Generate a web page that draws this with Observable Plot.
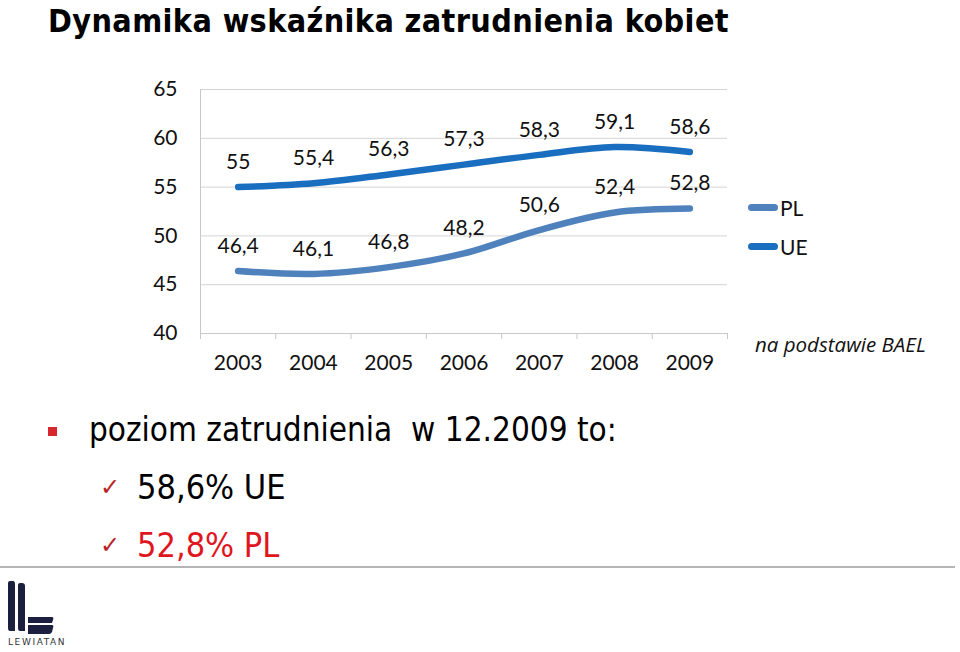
<!DOCTYPE html>
<html>
<head>
<meta charset="utf-8">
<script src="https://cdn.jsdelivr.net/npm/d3@7"></script>
<script src="https://cdn.jsdelivr.net/npm/@observablehq/plot@0.6"></script>
<style>
  html, body { margin: 0; padding: 0; background: #fff; }
  body { width: 960px; height: 652px; position: relative; overflow: hidden; font-family: Lato, "Open Sans", sans-serif; }
  .abs { position: absolute; white-space: nowrap; }
  #title { left: 48px; top: 2px; line-height: 38px; font-family: "DejaVu Sans", sans-serif; font-stretch: condensed; font-weight: bold; font-size: 32px; letter-spacing: 0.4px; color: #000; }
  #chart { left: 0; top: 60px; }
  .leg { font-family: Lato, sans-serif; font-size: 21px; color: #111; display: flex; align-items: center; }
  .leg span.sw { display: inline-block; width: 30px; height: 7px; border-radius: 3.5px; margin-right: 2px; }
  #source { left: 755px; top: 330px; font-family: "Open Sans", sans-serif; font-style: italic; font-size: 20.5px; color: #111; }
  .big { font-family: "DejaVu Sans", sans-serif; font-stretch: condensed; font-size: 33px; color: #000; }
  #bullet { left: 48px; top: 427px; width: 9px; height: 9px; background: #d8282f; }
  .check { font-family: "DejaVu Sans", sans-serif; font-size: 24px; color: #b8232a; }
  #hr { left: 0; top: 566px; width: 955px; height: 2px; background: #b5b5b5; }
  #logoText { left: 8px; top: 637px; font-family: "DejaVu Sans", sans-serif; font-size: 9px; letter-spacing: 1.6px; color: #333; }
</style>
</head>
<body>
<div id="title" class="abs">Dynamika wskaźnika zatrudnienia kobiet</div>
<div id="chart" class="abs"></div>

<div class="abs leg" style="left:748px; top:195px;"><span class="sw" style="background:#4f81bd"></span>PL</div>
<div class="abs leg" style="left:748px; top:234px;"><span class="sw" style="background:#1a6ec0"></span>UE</div>
<div id="source" class="abs">na podstawie BAEL</div>

<div id="bullet" class="abs"></div>
<div class="abs big" style="left:89px; top:410px;">poziom zatrudnienia&nbsp; w 12.2009 to:</div>
<div class="abs check" style="left:100px; top:473px;">✓</div>
<div class="abs big" style="left:137px; top:467px; font-size:34px;">58,6% UE</div>
<div class="abs check" style="left:100px; top:531px;">✓</div>
<div class="abs big" style="left:137px; top:525px; font-size:34px; color:#e0161e;">52,8% PL</div>
<div id="hr" class="abs"></div>

<svg class="abs" style="left:6px; top:581px;" width="50" height="56" viewBox="0 0 50 56">
  <path d="M2 2 Q2 0 4 0 L7 0 Q9 0 9 3 L9 50 L4 50 Q2 50 2 47 Z" fill="#1c1f3d"/>
  <path d="M12 4 Q12 2 14 2 L16 2 Q19 2 19 5 L19 50 L14 50 Q12 50 12 47 Z" fill="#1c1f3d"/>
  <path d="M22 36 L46 36 Q48 36 47 39 L46 42 L22 42 Z" fill="#1c1f3d"/>
  <path d="M22 44 L46 44 Q48 44 47 47 L46 51 Q45 53 43 53 L22 53 Z" fill="#1c1f3d"/>
</svg>
<div id="logoText" class="abs">LEWIATAN</div>

<script>
const years = [2003, 2004, 2005, 2006, 2007, 2008, 2009];
const plValues = [46.4, 46.1, 46.8, 48.2, 50.6, 52.4, 52.8];
const ueValues = [55, 55.4, 56.3, 57.3, 58.3, 59.1, 58.6];
const yTicks = [40, 45, 50, 55, 60, 65];
const seriesNames = ["PL", "UE"];
const seriesColors = ["#4f81bd", "#1a6ec0"];

const data = [
  ...years.map((year, i) => ({year, value: plValues[i], series: "PL"})),
  ...years.map((year, i) => ({year, value: ueValues[i], series: "UE"}))
];
const bounds = [years[0] - 0.5, ...years.map(y => y + 0.5)];
const fmt = v => String(v).replace(".", ",");

const chart = Plot.plot({
  width: 960,
  height: 330,
  marginLeft: 200,
  marginRight: 233,
  marginTop: 29,
  marginBottom: 57,
  style: {fontFamily: "Lato, 'Open Sans', sans-serif", color: "#111", background: "transparent"},
  x: {domain: [years[0] - 0.5, years[years.length - 1] + 0.5], axis: null},
  y: {domain: [40, 65], axis: null},
  color: {domain: seriesNames, range: seriesColors},
  marks: [
    Plot.gridY(yTicks.filter(t => t > 40), {stroke: "#d4d4d4", strokeOpacity: 1, strokeWidth: 1}),
    Plot.ruleY([40], {stroke: "#c8c8c8", strokeWidth: 1}),
    Plot.ruleX([years[0] - 0.5], {stroke: "#c8c8c8", strokeWidth: 1}),
    Plot.axisY(yTicks, {label: null, tickSize: 0, tickPadding: 23, fontSize: 21, tickFormat: d => String(d)}),
    Plot.axisX(bounds, {label: null, tickSize: 6, stroke: "#c8c8c8", tickFormat: () => ""}),
    Plot.axisX(years, {label: null, tickSize: 0, tickPadding: 22, fontSize: 21, tickFormat: d => String(d)}),
    Plot.line(data, {x: "year", y: "value", z: "series", stroke: "series", strokeWidth: 6.5, curve: "catmull-rom", strokeLinecap: "round"}),
    Plot.text(data, {x: "year", y: "value", text: d => fmt(d.value), dy: -25, fontSize: 21, fill: "#111"})
  ]
});
document.getElementById("chart").appendChild(chart);
</script>
</body>
</html>
